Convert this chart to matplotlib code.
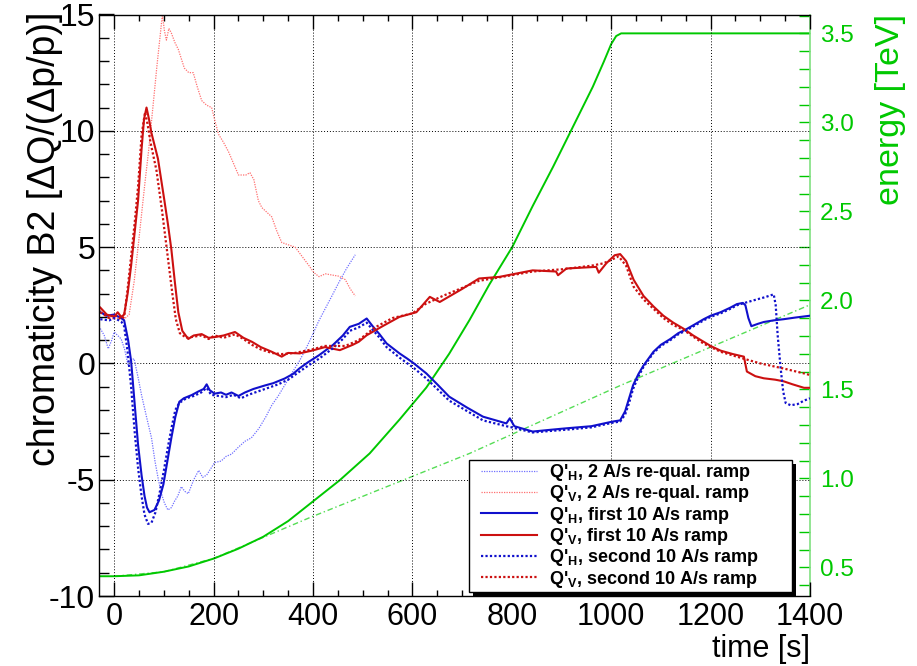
import matplotlib
matplotlib.use("Agg")
import matplotlib.pyplot as plt
from matplotlib.patches import Rectangle
from matplotlib.ticker import MultipleLocator

plt.rcParams['font.family'] = ['Liberation Sans', 'DejaVu Sans']
plt.rcParams['mathtext.fontset'] = 'custom'
plt.rcParams['mathtext.rm'] = 'Liberation Sans'
plt.rcParams['mathtext.bf'] = 'Liberation Sans:bold'
plt.rcParams['mathtext.it'] = 'Liberation Sans:italic'
plt.rcParams['axes.unicode_minus'] = False

# ---- data ----
# Q'H, 2 A/s re-qualification ramp
t_h_2as = [-28, -20, -12, -5, 0, 7, 14, 21, 28, 34, 40, 48, 55, 65, 75, 82, 88, 95, 101, 108, 115, 122, 128, 135,
           142, 149, 160, 170, 178, 186, 195, 202, 215, 225, 236, 250, 263, 276, 291, 305, 317, 330, 343, 358, 372,
           385, 398, 411, 424, 438, 452, 468, 485]
q_h_2as = [1.5, 1.2, 0.63, 1.0, 1.35, 1.2, 1.05, 0.6, -0.09, 0.15, 0.2, -0.6, -1.36, -2.3, -3.2, -4.2, -4.9, -5.6,
           -6.0, -6.3, -6.2, -5.9, -5.7, -5.3, -5.5, -5.6, -5.0, -4.6, -4.9, -4.8, -4.5, -4.26, -4.2, -4.0, -3.9, -3.6,
           -3.35, -3.2, -2.8, -2.3, -1.8, -1.4, -0.94, -0.4, 0.08, 0.6, 1.18, 1.8, 2.33, 2.9, 3.48, 4.1, 4.67]

# Q'V, 2 A/s re-qualification ramp
t_v_2as = [-28, -15, 0, 14, 20, 30, 40, 48, 55, 62, 69, 75, 81, 86, 91, 97, 101, 105, 110, 115, 122, 129, 135, 141,
           150, 159, 167, 176, 186, 196, 203, 210, 220, 230, 240, 250, 265, 273, 281, 290, 297, 307, 317, 327, 337,
           350, 364, 378, 392, 402, 412, 425, 438, 452, 465, 475, 485]
q_v_2as = [2.3, 2.0, 1.9, 2.0, 1.9, 2.1, 3.5, 5.0, 6.4, 7.8, 9.1, 10.4, 11.7, 12.8, 13.8, 15.0, 14.3, 13.9, 14.4,
           14.2, 13.8, 13.5, 13.1, 12.7, 12.5, 12.5, 11.9, 11.3, 11.1, 11.0, 10.4, 9.85, 9.5, 9.1, 8.6, 8.1, 8.1, 8.2,
           7.9, 7.0, 6.7, 6.5, 6.3, 5.7, 5.2, 5.1, 5.0, 4.6, 4.2, 3.9, 3.73, 3.85, 3.8, 3.75, 3.6, 3.2, 2.9]

# Q'H, first 10 A/s ramp
t_h_1st = [-28, -15, 0, 14, 20, 28, 34, 41, 48, 55, 61, 66, 71, 81, 90, 99, 107, 115, 123, 131, 140, 156, 170, 180,
           186, 192, 202, 215, 225, 236, 250, 263, 280, 303, 320, 343, 360, 373, 390, 412, 440, 460, 474, 492, 508,
           520, 534, 548, 574, 590, 603, 628, 650, 674, 710, 742, 789, 796, 805, 842, 880, 910, 960, 1003, 1018, 1028,
           1036, 1044, 1055, 1065, 1085, 1100, 1119, 1135, 1152, 1170, 1186, 1200, 1220, 1240, 1253, 1265, 1270,
           1276, 1282, 1295, 1307, 1327, 1347, 1370, 1400]
q_h_1st = [2.2, 2.05, 2.1, 1.95, 1.85, 1.0, 0.1, -1.7, -3.5, -4.8, -5.7, -6.2, -6.4, -6.3, -5.9, -5.2, -4.2, -3.2,
           -2.3, -1.65, -1.5, -1.36, -1.2, -1.1, -0.9, -1.15, -1.3, -1.25, -1.35, -1.25, -1.4, -1.25, -1.1, -0.95,
           -0.85, -0.65, -0.45, -0.21, 0.05, 0.35, 0.79, 1.2, 1.57, 1.7, 1.93, 1.6, 1.25, 0.86, 0.43, 0.2, 0.0, -0.43,
           -0.9, -1.43, -1.9, -2.29, -2.58, -2.36, -2.7, -2.93, -2.85, -2.79, -2.7, -2.5, -2.45, -2.06, -1.5, -0.94,
           -0.45, -0.09, 0.5, 0.8, 1.05, 1.3, 1.48, 1.7, 1.9, 2.05, 2.2, 2.4, 2.55, 2.6, 2.5, 1.95, 1.6, 1.7, 1.78,
           1.85, 1.9, 1.97, 2.05]

# Q'V, first 10 A/s ramp
t_v_1st = [-28, -15, 0, 7, 14, 20, 27, 34, 41, 48, 55, 60, 65, 70, 75, 88, 101, 108, 115, 122, 129, 137, 149, 160,
           176, 190, 202, 220, 243, 260, 277, 295, 317, 337, 350, 373, 398, 424, 454, 480, 492, 508, 540, 574, 608,
           635, 655, 700, 734, 775, 842, 889, 893, 910, 970, 975, 990, 1007, 1018, 1030, 1045, 1065, 1085, 1105,
           1125, 1145, 1165, 1186, 1200, 1220, 1245, 1267, 1273, 1290, 1307, 1330, 1347, 1365, 1388, 1400]
q_v_1st = [2.4, 2.1, 2.0, 2.2, 2.0, 2.1, 3.0, 4.2, 5.6, 7.0, 9.2, 10.5, 11.0, 10.5, 9.9, 8.8, 7.0, 6.0, 4.9, 3.5,
           2.2, 1.4, 1.05, 1.2, 1.26, 1.1, 1.13, 1.2, 1.35, 1.1, 0.93, 0.7, 0.5, 0.29, 0.45, 0.43, 0.55, 0.7, 0.57,
           0.8, 0.93, 1.21, 1.6, 2.0, 2.2, 2.86, 2.64, 3.2, 3.65, 3.72, 4.0, 3.95, 3.79, 4.08, 4.15, 3.9, 4.3, 4.65,
           4.7, 4.4, 3.6, 2.9, 2.45, 2.05, 1.75, 1.5, 1.2, 0.93, 0.75, 0.55, 0.4, 0.29, -0.35, -0.55, -0.64, -0.7,
           -0.77, -0.9, -1.05, -1.05]

# Q'H, second 10 A/s ramp
t_h_2nd = [-28, -10, 0, 14, 20, 27, 34, 41, 48, 55, 61, 68, 75, 83, 92, 100, 108, 115, 123, 131, 145, 160, 175, 186,
           195, 210, 225, 240, 255, 270, 290, 310, 330, 350, 373, 390, 412, 440, 460, 474, 492, 508, 520, 534, 548,
           574, 590, 603, 628, 650, 674, 710, 742, 789, 800, 842, 880, 910, 960, 1003, 1018, 1028, 1036, 1044, 1055,
           1065, 1085, 1100, 1119, 1135, 1152, 1170, 1186, 1200, 1220, 1240, 1253, 1265, 1293, 1310, 1327, 1331, 1335,
           1341, 1346, 1351, 1361, 1375, 1388, 1400]
q_h_2nd = [1.9, 1.85, 1.95, 1.8, 1.6, 0.5, -1.0, -2.9, -4.5, -5.7, -6.5, -6.9, -6.85, -6.4, -5.5, -4.6, -3.6, -2.8,
           -2.0, -1.7, -1.5, -1.4, -1.25, -1.05, -1.35, -1.4, -1.45, -1.35, -1.5, -1.35, -1.2, -1.05, -0.9, -0.7,
           -0.35, -0.1, 0.2, 0.65, 1.05, 1.4, 1.55, 1.75, 1.45, 1.1, 0.7, 0.25, 0.0, -0.2, -0.65, -1.1, -1.6, -2.05,
           -2.45, -2.7, -2.75, -2.97, -2.9, -2.85, -2.75, -2.55, -2.5, -2.2, -1.7, -1.1, -0.55, -0.15, 0.45, 0.75,
           1.0, 1.25, 1.43, 1.65, 1.85, 2.0, 2.15, 2.35, 2.5, 2.58, 2.75, 2.85, 2.97, 2.5, 1.2, -0.22, -1.2, -1.7,
           -1.8, -1.75, -1.6, -1.5]

# Q'V, second 10 A/s ramp
t_v_2nd = [-28, -10, 0, 14, 20, 27, 34, 41, 48, 55, 62, 67, 73, 85, 96, 103, 110, 117, 124, 132, 145, 160, 176, 190,
           202, 220, 243, 260, 277, 295, 317, 337, 364, 398, 424, 465, 492, 525, 560, 600, 626, 661, 695, 734, 775,
           842, 903, 960, 984, 1000, 1015, 1030, 1045, 1065, 1085, 1105, 1125, 1145, 1165, 1186, 1220, 1267, 1300,
           1347, 1388, 1400]
q_v_2nd = [2.2, 1.95, 2.1, 1.9, 2.0, 3.2, 4.6, 6.0, 7.6, 9.8, 10.8, 10.3, 9.5, 8.3, 6.6, 5.4, 4.2, 3.0, 1.9, 1.3,
           1.1, 1.15, 1.2, 1.05, 1.2, 1.1, 1.25, 1.05, 0.8, 0.6, 0.45, 0.4, 0.45, 0.6, 0.75, 0.75, 1.0, 1.55, 1.95,
           2.15, 2.55, 2.9, 3.2, 3.55, 3.7, 3.95, 4.05, 4.2, 4.3, 4.45, 4.6, 4.2, 3.3, 2.75, 2.35, 1.95, 1.65, 1.45,
           1.15, 0.85, 0.5, 0.2, 0.0, -0.22, -0.43, -0.5]

# beam energy [TeV]
t_energy = [-30, 0, 50, 99, 150, 201, 250, 300, 350, 402, 454, 514, 574, 628, 674, 715, 755, 801, 842, 883, 923,
            963, 985, 1000, 1010, 1020, 1400]
e_energy = [0.45, 0.45, 0.455, 0.475, 0.505, 0.55, 0.605, 0.672, 0.76, 0.875, 0.99, 1.14, 1.33, 1.51, 1.70, 1.89,
            2.09, 2.30, 2.53, 2.75, 2.975, 3.2, 3.34, 3.44, 3.485, 3.5, 3.5]
t_energy_2as = [0, 100, 200, 297, 394, 715, 1017, 1400]
e_energy_2as = [0.45, 0.475, 0.55, 0.665, 0.78, 1.14, 1.52, 1.975]

labels = [r"Q'$_{\mathbf{H}}$, 2 A/s re-qual. ramp",
          r"Q'$_{\mathbf{V}}$, 2 A/s re-qual. ramp",
          r"Q'$_{\mathbf{H}}$, first 10 A/s ramp",
          r"Q'$_{\mathbf{V}}$, first 10 A/s ramp",
          r"Q'$_{\mathbf{H}}$, second 10 A/s ramp",
          r"Q'$_{\mathbf{V}}$, second 10 A/s ramp"]

blue = '#1010cc'
red = '#cc1010'
green = '#00c800'

W, H = 917, 666
fig = plt.figure(figsize=(W / 100, H / 100), dpi=100)
ax = fig.add_axes([99.3 / W, 1 - 596 / H, (810 - 99.3) / W, (596 - 14.5) / H])
ax2 = ax.twinx()
ax.set_zorder(ax2.get_zorder() + 1)   # chromaticity on top of energy
ax.patch.set_visible(False)

# energy (right axis)
ax2.plot(t_energy_2as, e_energy_2as, color='#55dd55', lw=1.0, ls=(0, (4, 2, 1, 2)))
ax2.plot(t_energy, e_energy, color=green, lw=1.4)

dot = (0, (1, 1))
h = []
h += ax.plot(t_h_2as, q_h_2as, color='#7070ff', lw=0.9, ls=dot)
h += ax.plot(t_v_2as, q_v_2as, color='#ff7070', lw=0.9, ls=dot)
h += ax.plot(t_h_1st, q_h_1st, color=blue, lw=1.5)
h += ax.plot(t_v_1st, q_v_1st, color=red, lw=1.5)
h += ax.plot(t_h_2nd, q_h_2nd, color=blue, lw=1.6, ls=dot)
h += ax.plot(t_v_2nd, q_v_2nd, color=red, lw=1.6, ls=dot)

ax.set_xlim(-30, 1400)
ax.set_ylim(-10, 15)
ax2.set_ylim(0.339, 3.606)

ax.xaxis.set_major_locator(MultipleLocator(200))
ax.xaxis.set_minor_locator(MultipleLocator(50))
ax.yaxis.set_major_locator(MultipleLocator(5))
ax.yaxis.set_minor_locator(MultipleLocator(1))
ax2.yaxis.set_major_locator(MultipleLocator(0.5))
ax2.yaxis.set_minor_locator(MultipleLocator(0.1))

ax.tick_params(axis='x', which='both', direction='in', top=True, labelsize=22, pad=4)
ax.tick_params(axis='x', which='major', length=10, width=1)
ax.tick_params(axis='x', which='minor', length=4.5, width=1)
ax.tick_params(axis='y', which='both', direction='in', right=False, labelsize=23, pad=3)
ax.tick_params(axis='y', which='major', length=11, width=1)
ax.tick_params(axis='y', which='minor', length=7.5, width=1)
ax2.tick_params(axis='y', which='both', direction='in', colors=green, labelsize=17.5, pad=7, length=8, width=1)

ax.grid(True, which='major', color='black', lw=0.7, ls=(0, (1, 2)))

for s in ['left', 'top', 'bottom']:
    ax.spines[s].set_linewidth(1.0)
ax.spines['right'].set_visible(False)
for s in ['left', 'top', 'bottom']:
    ax2.spines[s].set_visible(False)
ax2.spines['right'].set_color('#80e080')
ax2.spines['right'].set_linewidth(1.2)

fig.text(45 / W, 1 - 12 / H, 'chromaticity B2 [ΔQ/(Δp/p)]', rotation=90, ha='center', va='top', fontsize=27)
fig.text(891 / W, 1 - 14 / H, 'energy [TeV]', rotation=90, ha='center', va='top', fontsize=24.5, color=green)
fig.text(810 / W, 1 - 657 / H, 'time [s]', ha='right', va='baseline', fontsize=22)

# legend box with ROOT-like black shadow, drawn by hand
x0, y0, x1, y1 = 469.3, 460, 792.3, 591.7
ax.add_patch(Rectangle(((x0 + 4) / W, 1 - (y1 + 4) / H), (x1 - x0) / W, (y1 - y0) / H,
                       transform=fig.transFigure, facecolor='black', edgecolor='none', zorder=4.4, clip_on=False))
ax.add_patch(Rectangle((x0 / W, 1 - y1 / H), (x1 - x0) / W, (y1 - y0) / H,
                       transform=fig.transFigure, facecolor='white', edgecolor='black', lw=1.0,
                       zorder=4.5, clip_on=False))
leg = ax.legend(h, labels, loc='upper left', bbox_to_anchor=(480.7 / W, 1 - 462 / H),
                bbox_transform=fig.transFigure, prop={'weight': 'bold', 'size': 13},
                frameon=False, borderaxespad=0, borderpad=0, handlelength=3.1, handletextpad=0.7,
                labelspacing=0.02)
leg.set_zorder(5)

fig.savefig('out.png', dpi=100)
